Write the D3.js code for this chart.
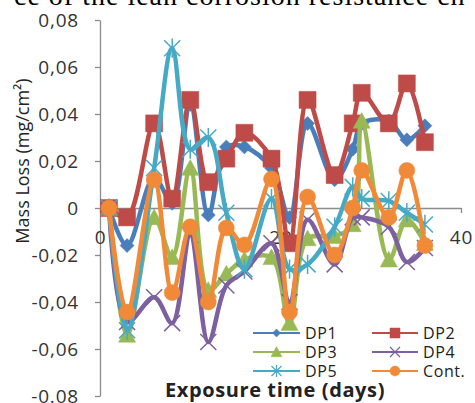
<!DOCTYPE html>
<html><head><meta charset="utf-8">
<script src="https://cdn.jsdelivr.net/npm/d3@7"></script>
<style>
html,body{margin:0;padding:0;background:#fff;}
svg{display:block;}
</style></head>
<body>
<script>
// ---- data ----
const days = [1,3,6,8,10,12,14,16,19,21,23,26,28,29,32,34,36];
const dp1  = [0,-0.016,0.013,0.002,0.044,-0.003,0.026,0.026,0.017,-0.004,0.036,0.012,0.025,0.036,0.037,0.029,0.035];
const dp2  = [0,-0.004,0.036,0.004,0.046,0.011,0.021,0.032,0.021,-0.015,0.046,0.014,0.036,0.049,0.036,0.053,0.028];
const dp3  = [0,-0.054,-0.004,-0.021,0.017,-0.035,-0.028,-0.022,-0.021,-0.049,-0.013,-0.012,-0.007,0.037,-0.022,-0.005,-0.015];
const dp4  = [0,-0.0485,-0.038,-0.049,-0.0115,-0.057,-0.033,-0.027,-0.015,-0.040,-0.005,-0.024,-0.004,-0.004,-0.008,-0.023,-0.017];
const dp5  = [0,-0.052,0.017,0.068,0.025,0.030,-0.002,-0.026,0.004,-0.026,-0.024,-0.008,0.009,0.004,0.003,-0.002,-0.007];
const cont = [0,-0.0443,0.012,-0.036,-0.008,-0.040,-0.0085,-0.0157,0.0123,-0.0443,0.0047,-0.020,0,0.016,-0.004,0.016,-0.016];
const seriesNames = ["DP1","DP2","DP3","DP4","DP5","Cont."];
const yTicks = [0.08,0.06,0.04,0.02,0,-0.02,-0.04,-0.06,-0.08];
const yTickLabels = ["0,08","0,06","0,04","0,02","0","-0,02","-0,04","-0,06","-0.08"];
const xTicks = [0,20,40];
const xTickLabels = ["0","20","40"];
const yTitle = "Mass Loss (mg/cm\u00B2)";
const xTitle = "Exposure time (days)";
const topText = "ce of the lean corrosion resistance ch";

// ---- styles ----
const colors = ["#4A7EBB","#BE4B48","#98B954","#7D60A0","#46AAC5","#F08A38"];
const markers = ["diamond","square","triangle","x","star","circle"];
const values = [dp1,dp2,dp3,dp4,dp5,cont];

const W=475,H=403;
const svg = d3.select("body").append("svg").attr("width",W).attr("height",H);
const x = d3.scaleLinear().domain([0,40]).range([100,461]);
const y = d3.scaleLinear().domain([-0.08,0.08]).range([396,20]);
const font = "'Open Sans', sans-serif";

// cropped document text at top
svg.append("text").attr("x",14).attr("y",5).attr("font-family","'Liberation Serif', serif")
  .attr("font-size",28).attr("letter-spacing",1).attr("fill","#000").text(topText);

// axes
const yAxis = d3.axisLeft(y).tickValues(yTicks).tickSize(5).tickSizeOuter(0).tickPadding(16)
  .tickFormat((d,i)=>yTickLabels[i]);
const gy = svg.append("g").attr("transform",`translate(${x(0)},0)`).call(yAxis);
const xAxis = d3.axisBottom(x).tickValues(xTicks).tickSize(5).tickSizeOuter(0).tickPadding(18)
  .tickFormat((d,i)=>xTickLabels[i]);
const gx = svg.append("g").attr("transform",`translate(0,${y(0)})`).call(xAxis);
[gx,gy].forEach(g=>{
  g.select(".domain").attr("stroke","#8c8c8c").attr("stroke-width",1.3);
  g.selectAll(".tick line").attr("stroke","#8c8c8c").attr("stroke-width",1.3);
  g.selectAll(".tick text").attr("font-family",font).attr("font-size",19)
    .attr("letter-spacing",0.8).attr("fill","#333");
});

function markerPath(type,s){
  const h=s/2;
  switch(type){
    case "diamond": return `M0,${-h}L${h},0L0,${h}L${-h},0Z`;
    case "square": return `M${-h},${-h}H${h}V${h}H${-h}Z`;
    case "triangle": return `M0,${-h}L${h},${h*0.85}L${-h},${h*0.85}Z`;
    case "circle": return d3.symbol(d3.symbolCircle, Math.PI*h*h)();
    case "x": return `M${-h},${-h}L${h},${h}M${h},${-h}L${-h},${h}`;
    case "star": return `M${-h},${-h}L${h},${h}M${h},${-h}L${-h},${h}M0,${-h*1.2}V${h*1.2}`;
  }
}
const markerSize = {diamond:14,square:17,triangle:17,circle:16,x:16,star:16};
const legendMarkerSize = {diamond:8,square:10,triangle:11,circle:10,x:10,star:10};

const line = d3.line().x((d,i)=>x(days[i])).y(d=>y(d)).curve(d3.curveCatmullRom.alpha(0.5));

values.forEach((vals,si)=>{
  const g = svg.append("g");
  g.append("path").attr("d",line(vals)).attr("fill","none")
    .attr("stroke",colors[si]).attr("stroke-width",4.5).attr("stroke-linejoin","round");
  const m = markers[si];
  const stroked = (m==="x"||m==="star");
  g.selectAll("path.mk").data(vals).join("path").attr("class","mk")
    .attr("transform",(d,i)=>`translate(${x(days[i])},${y(d)})`)
    .attr("d",markerPath(m,markerSize[m]))
    .attr("fill",stroked?"none":colors[si])
    .attr("stroke",colors[si]).attr("stroke-width",stroked?1.5:0.5);
});

// legend
const legRows=[333,352,371], legCols=[{x0:253,x1:300,tx:305},{x0:372,x1:418,tx:423}];
seriesNames.forEach((name,si)=>{
  const r=Math.floor(si/2), c=si%2;
  const cy=legRows[r], col=legCols[c];
  const g=svg.append("g");
  g.append("line").attr("x1",col.x0).attr("x2",col.x1).attr("y1",cy).attr("y2",cy)
    .attr("stroke",colors[si]).attr("stroke-width",2.2);
  const m=markers[si], stroked=(m==="x"||m==="star");
  g.append("path").attr("transform",`translate(${(col.x0+col.x1)/2},${cy})`)
    .attr("d",markerPath(m,legendMarkerSize[m]))
    .attr("fill",stroked?"none":colors[si]).attr("stroke",colors[si]).attr("stroke-width",stroked?1.2:0.5);
  g.append("text").attr("x",col.tx).attr("y",cy+6).attr("font-family",font).attr("font-size",16)
    .attr("letter-spacing",0.6).attr("fill","#222").text(name);
});

// titles
svg.append("text").attr("x",275).attr("y",397).attr("text-anchor","middle")
  .attr("font-family",font).attr("font-weight","bold").attr("font-size",20)
  .attr("letter-spacing",0.6).attr("fill","#222").text(xTitle);
svg.append("text").attr("transform","translate(29,161) rotate(-90)").attr("text-anchor","middle")
  .attr("font-family",font).attr("font-size",18).attr("fill","#222").text(yTitle);
</script>
</body></html>
